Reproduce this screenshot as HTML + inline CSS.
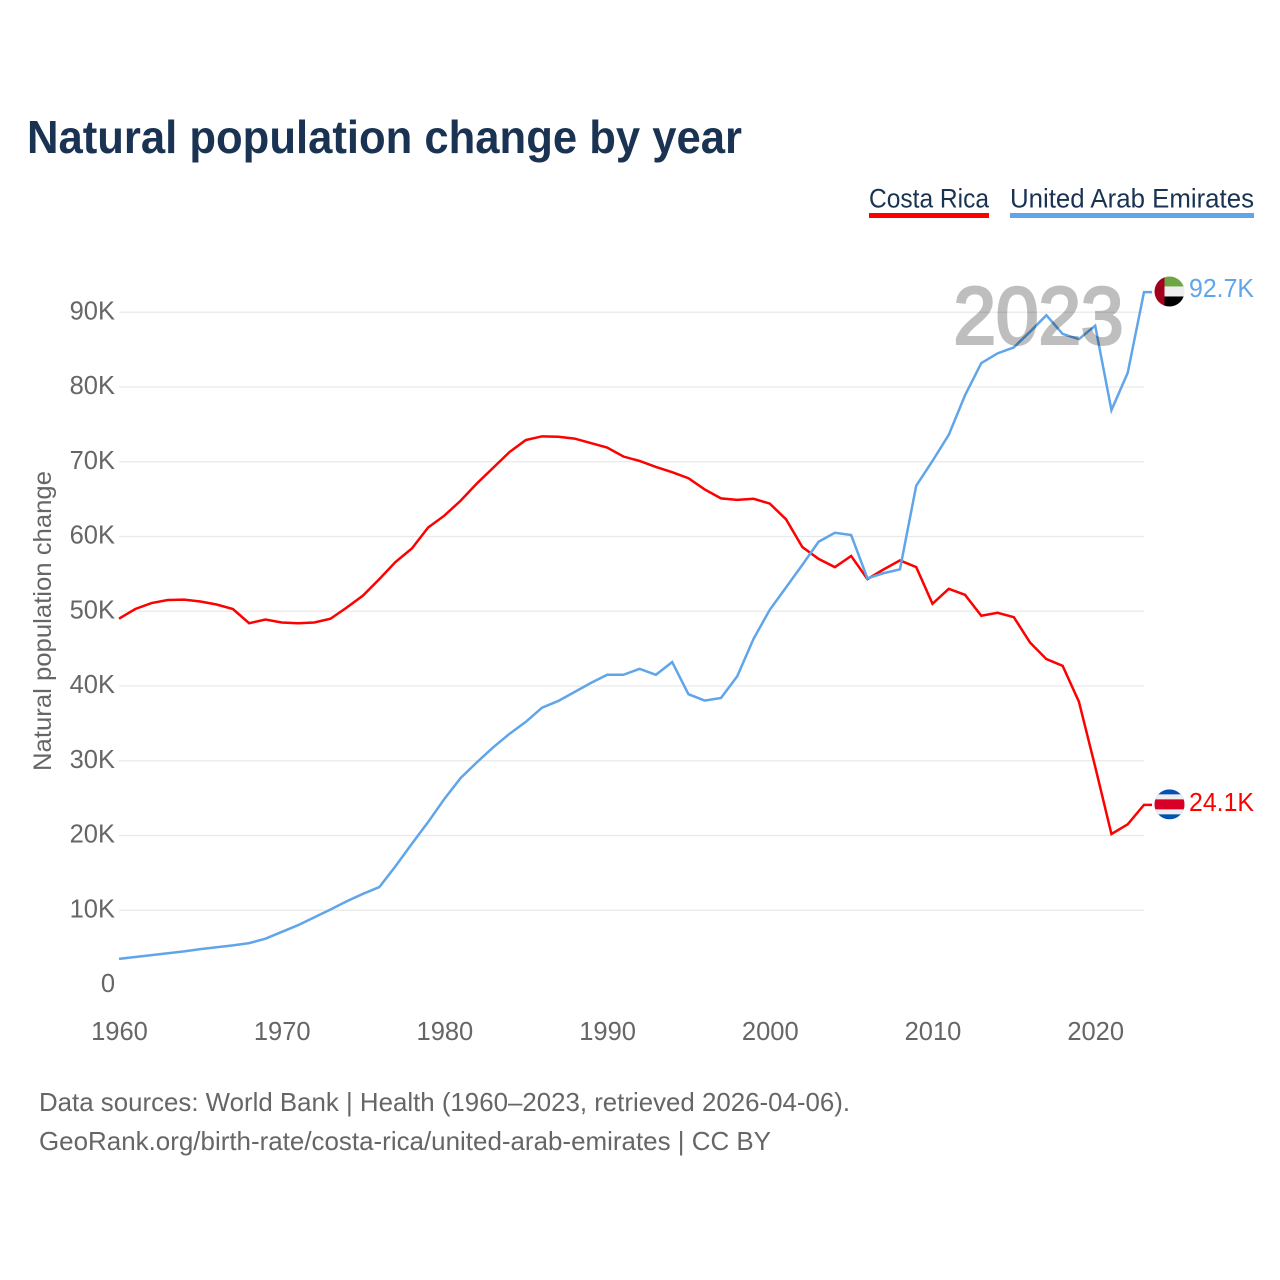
<!DOCTYPE html>
<html lang="en">
<head>
<meta charset="utf-8">
<title>Natural population change by year</title>
<style>
html,body{margin:0;padding:0;background:#fff;width:1280px;height:1280px;overflow:hidden}
svg{display:block}
text{font-family:"Liberation Sans",sans-serif}
</style>
</head>
<body>
<svg id="chart" xmlns="http://www.w3.org/2000/svg" width="1280" height="1280" viewBox="0 0 1280 1280">
  <defs>
    <clipPath id="uae-clip"><circle id="uae-clip-circle" cx="0" cy="0" r="15"/></clipPath>
    <clipPath id="cr-clip"><circle id="cr-clip-circle" cx="0" cy="0" r="15"/></clipPath>
  </defs>
  <rect width="1280" height="1280" fill="#fff"/>
  <text x="27" y="153" font-size="46" font-weight="700" fill="#1a3353" textLength="715" lengthAdjust="spacingAndGlyphs">Natural population change by year</text>

  <g>
    <g>
      <text x="869" y="207.5" font-size="27" fill="#1a3353" textLength="120" lengthAdjust="spacingAndGlyphs">Costa Rica</text>
      <rect x="869" y="213" width="120" height="5" fill="#ff0000"/>
    </g>
    <g>
      <text x="1010" y="207.5" font-size="27" fill="#1a3353" textLength="244" lengthAdjust="spacingAndGlyphs">United Arab Emirates</text>
      <rect x="1010" y="213" width="244" height="5" fill="#60a5ea"/>
    </g>
  </g>

  <g id="grid"></g>
  <g id="y-axis"></g>
  <g id="x-axis"></g>
  <text transform="translate(51,621) rotate(-90)" text-anchor="middle" font-size="25" fill="#666" textLength="300" lengthAdjust="spacingAndGlyphs">Natural population change</text>
  <g id="series"></g>
  <text x="1123.5" y="343.5" text-anchor="end" font-size="81" font-weight="400" fill="#000" stroke="#000" stroke-width="3" paint-order="stroke" opacity="0.25" textLength="170" lengthAdjust="spacingAndGlyphs">2023</text>
  <g id="end-labels"></g>

  <text x="39" y="1111" font-size="26" fill="#666" textLength="811" lengthAdjust="spacingAndGlyphs">Data sources: World Bank | Health (1960–2023, retrieved 2026-04-06).</text>
  <text x="39" y="1150" font-size="26" fill="#666" textLength="732" lengthAdjust="spacingAndGlyphs">GeoRank.org/birth-rate/costa-rica/united-arab-emirates | CC BY</text>
</svg>

<script>
const startYear = 1960;
const endYear = 2023;
const yTicks = [0, 10, 20, 30, 40, 50, 60, 70, 80, 90];
const yTickLabels = ["0", "10K", "20K", "30K", "40K", "50K", "60K", "70K", "80K", "90K"];
const xTicks = [1960, 1970, 1980, 1990, 2000, 2010, 2020];
const costaRicaValues = [
  49.0, 50.3, 51.1, 51.5, 51.55, 51.3, 50.9, 50.3, 48.4, 48.9,
  48.5, 48.4, 48.5, 49.0, 50.5, 52.1, 54.3, 56.6, 58.4, 61.2,
  62.8, 64.8, 67.1, 69.2, 71.3, 72.9, 73.4, 73.35, 73.1, 72.5,
  71.9, 70.7, 70.1, 69.3, 68.6, 67.8, 66.3, 65.1, 64.9, 65.05,
  64.4, 62.3, 58.6, 57.0, 55.9, 57.4, 54.3, 55.6, 56.8, 55.9,
  51.0, 53.0, 52.2, 49.4, 49.8, 49.2, 45.8, 43.6, 42.7, 37.9,
  29.2, 20.2, 21.5, 24.1
];
const uaeValues = [
  3.5, 3.75, 4.0, 4.25, 4.5, 4.8, 5.05, 5.3, 5.6, 6.2,
  7.1, 8.0, 9.05, 10.1, 11.2, 12.2, 13.1, 15.9, 18.9, 21.8,
  24.9, 27.7, 29.8, 31.8, 33.6, 35.2, 37.1, 38.0, 39.2, 40.4,
  41.5, 41.5, 42.3, 41.5, 43.2, 38.9, 38.05, 38.4, 41.3, 46.3,
  50.2, 53.2, 56.2, 59.3, 60.5, 60.2, 54.4, 55.1, 55.6, 66.8,
  70.1, 73.6, 78.9, 83.2, 84.5, 85.3, 87.4, 89.6, 87.1, 86.4,
  88.2, 76.9, 81.9, 92.7
];
const costaRicaEndLabel = "24.1K";
const uaeEndLabel = "92.7K";

const NS = "http://www.w3.org/2000/svg";
const plotLeft = 119;
const plotRight = 1144;
const plotBottom = 985;
const pxPerUnit = 7.475;
const xScale = function (year) {
  return plotLeft + (year - startYear) * (plotRight - plotLeft) / (endYear - startYear);
};
const yScale = function (value) {
  return plotBottom - value * pxPerUnit;
};
const make = function (tag, parent) {
  const el = document.createElementNS(NS, tag);
  parent.appendChild(el);
  return el;
};

const grid = document.getElementById("grid");
const yAxis = document.getElementById("y-axis");
const xAxis = document.getElementById("x-axis");
const series = document.getElementById("series");
const endLabels = document.getElementById("end-labels");

yTicks.forEach(function (tick, i) {
  if (tick !== 0) {
    const line = make("line", grid);
    
    
    line.setAttribute("x1", plotLeft);
    line.setAttribute("x2", plotRight);
    line.setAttribute("y1", yScale(tick));
    line.setAttribute("y2", yScale(tick));
    line.setAttribute("stroke", "#e9e9e9");
    line.setAttribute("stroke-width", "1.2");
  }
  const label = make("text", yAxis);
  
  
  label.setAttribute("x", 115);
  label.setAttribute("y", yScale(tick) + 7.2);
  label.setAttribute("text-anchor", "end");
  label.setAttribute("font-size", "25.5");
  label.setAttribute("fill", "#666");
  label.textContent = yTickLabels[i];
});

xTicks.forEach(function (tick) {
  const label = make("text", xAxis);
  
  
  label.setAttribute("x", xScale(tick) + 0.5);
  label.setAttribute("y", 1040);
  label.setAttribute("text-anchor", "middle");
  label.setAttribute("font-size", "25.5");
  label.setAttribute("fill", "#666");
  label.textContent = tick;
});

const linePath = function (values) {
  const pts = values.map(function (v, i) {
    return xScale(startYear + i).toFixed(2) + "," + yScale(v).toFixed(2);
  });
  const last = yScale(values[values.length - 1]).toFixed(2);
  return "M" + pts.join(" L") + " L" + (plotRight + 8) + "," + last;
};

const crLine = make("path", series);


crLine.setAttribute("d", linePath(costaRicaValues));
crLine.setAttribute("fill", "none");
crLine.setAttribute("stroke", "#ff0000");
crLine.setAttribute("stroke-width", "2.5");

const uaeLine = make("path", series);


uaeLine.setAttribute("d", linePath(uaeValues));
uaeLine.setAttribute("fill", "none");
uaeLine.setAttribute("stroke", "#60a5ea");
uaeLine.setAttribute("stroke-width", "2.5");

const flagBands = function (parent, bands) {
  bands.forEach(function (b) {
    const r = make("rect", parent);
    r.setAttribute("x", b[0]);
    r.setAttribute("y", b[1]);
    r.setAttribute("width", b[2]);
    r.setAttribute("height", b[3]);
    r.setAttribute("fill", b[4]);
  });
};

const uaeY = yScale(uaeValues[uaeValues.length - 1]);
const uaeFlag = make("g", endLabels);


uaeFlag.setAttribute("transform", "translate(1169.5," + (uaeY - 0.6) + ")");
uaeFlag.setAttribute("clip-path", "url(#uae-clip)");
flagBands(uaeFlag, [
  [-5, -15, 20, 10, "#6da544"],
  [-5, -5, 20, 10, "#eeeeee"],
  [-5, 5, 20, 10, "#000000"],
  [-15, -15, 10, 30, "#a2001d"]
]);

const uaeText = make("text", endLabels);


uaeText.setAttribute("x", 1189);
uaeText.setAttribute("y", uaeY + 5);
uaeText.setAttribute("font-size", "25.5");
uaeText.setAttribute("fill", "#60a5ea");
uaeText.setAttribute("textLength", "65");
uaeText.setAttribute("lengthAdjust", "spacingAndGlyphs");
uaeText.textContent = uaeEndLabel;

const crY = yScale(costaRicaValues[costaRicaValues.length - 1]);
const crFlag = make("g", endLabels);


crFlag.setAttribute("transform", "translate(1169.5," + (crY - 0.5) + ")");
crFlag.setAttribute("clip-path", "url(#cr-clip)");
flagBands(crFlag, [
  [-15, -15, 30, 30, "#0052b4"],
  [-15, -10, 30, 20, "#eeeeee"],
  [-15, -5, 30, 10, "#d80027"]
]);

const crText = make("text", endLabels);


crText.setAttribute("x", 1189);
crText.setAttribute("y", crY + 6);
crText.setAttribute("font-size", "25.5");
crText.setAttribute("fill", "#ff0000");
crText.setAttribute("textLength", "65");
crText.setAttribute("lengthAdjust", "spacingAndGlyphs");
crText.textContent = costaRicaEndLabel;
</script>
</body>
</html>
